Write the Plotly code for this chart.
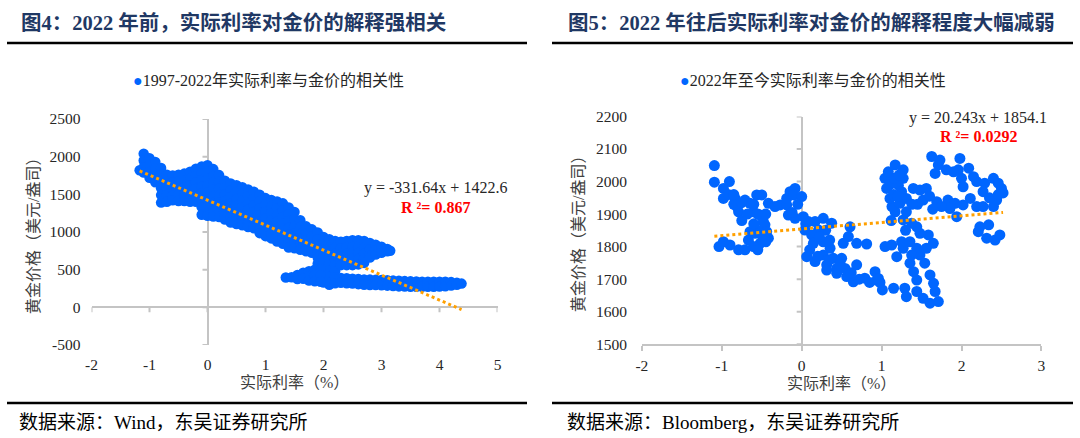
import plotly.graph_objects as go

# ---------------- data: left panel (1997-2022) ----------------
rate_pre = (
    [-1.17] + [-1.10]*4 + [-1.00]*4 + [-0.90]*4 + [-0.80]*6 + [-0.70]*5 + [-0.60]*5 + [-0.50]*5
    + [-0.40]*5 + [-0.30]*6 + [-0.20]*6 + [-0.10]*8 + [0.00]*9 + [0.10]*8 + [0.20]*7 + [0.30]*7
    + [0.40]*7 + [0.50]*7 + [0.60]*7 + [0.70]*7 + [0.80]*7 + [0.90]*7 + [1.00]*7 + [1.10]*7
    + [1.20]*7 + [1.30]*7 + [1.40]*7 + [1.50]*6 + [1.60]*6 + [1.70]*5 + [1.80]*5 + [1.90]*6
    + [2.00]*9 + [2.10]*9 + [2.20]*8 + [2.30]*5 + [2.40]*5 + [2.50]*5 + [2.60]*5 + [2.70]*5
    + [2.80]*4 + [2.90]*3 + [3.00]*2 + [3.10]*2 + [3.15]
    + [1.35] + [1.45] + [1.55]*2 + [1.65]*2 + [1.75]*3 + [1.85]*3 + [1.95]*3
    + [2.30]*2 + [2.40]*2 + [2.50]*2 + [2.60]*2 + [2.70]*2 + [2.80]*2 + [2.90]*2 + [3.00]*2
    + [3.10]*2 + [3.20]*2 + [3.30]*2 + [3.40]*2 + [3.50]*2 + [3.60]*2 + [3.70]*2 + [3.80]*2
    + [3.90]*2 + [4.00]*2 + [4.10]*2 + [4.20]*2 + [4.30]*2 + [4.38]
)
gold_pre = [
    1820,
    2040, 1950, 1860, 1790,
    1980, 1890, 1800, 1720,
    1930, 1840, 1750, 1660,
    1850, 1760, 1670, 1580, 1490, 1390,
    1760, 1670, 1580, 1490, 1400,
    1750, 1660, 1570, 1480, 1420,
    1760, 1670, 1580, 1490, 1410,
    1775, 1685, 1595, 1505, 1410,
    1800, 1710, 1620, 1530, 1440, 1400,
    1840, 1750, 1660, 1570, 1480, 1400,
    1870, 1780, 1690, 1600, 1510, 1420, 1330, 1230,
    1885, 1795, 1705, 1615, 1525, 1435, 1345, 1260, 1215,
    1835, 1745, 1655, 1565, 1475, 1385, 1295, 1205,
    1755, 1665, 1575, 1485, 1395, 1305, 1200,
    1680, 1590, 1500, 1410, 1320, 1230, 1165,
    1645, 1555, 1465, 1375, 1285, 1195, 1125,
    1620, 1530, 1440, 1350, 1260, 1170, 1105,
    1595, 1505, 1415, 1325, 1235, 1145, 1090,
    1565, 1475, 1385, 1295, 1205, 1115, 1065,
    1535, 1445, 1355, 1265, 1175, 1085, 1050,
    1495, 1405, 1315, 1225, 1135, 1045, 985,
    1450, 1360, 1270, 1180, 1090, 1000, 945,
    1425, 1335, 1245, 1155, 1065, 975, 915,
    1405, 1315, 1225, 1135, 1045, 955, 875,
    1380, 1290, 1200, 1110, 1020, 930, 845,
    1325, 1235, 1145, 1055, 965, 875, 795,
    1265, 1170, 1075, 980, 885, 785,
    1155, 1065, 975, 885, 800, 765,
    1075, 985, 900, 815, 745,
    1035, 945, 860, 775, 725,
    995, 905, 820, 740, 660, 580,
    935, 850, 765, 680, 600, 520, 440, 360, 330,
    905, 820, 735, 650, 570, 490, 410, 330, 300,
    880, 795, 710, 630, 560, 480, 400, 320,
    870, 785, 700, 620, 560,
    880, 795, 710, 630, 560,
    890, 805, 720, 640, 560,
    890, 805, 720, 640, 570,
    880, 795, 710, 640, 590,
    855, 770, 690, 660,
    830, 760, 700,
    805, 725,
    775, 745,
    750,
    395, 400, 430, 375, 460, 380, 480, 410, 355, 500, 425, 345, 505, 425, 340,
    390, 325, 385, 320, 380, 316, 375, 308, 370, 300, 368, 297, 365, 295, 362, 292,
    360, 288, 355, 282, 352, 278, 348, 275, 345, 273, 342, 273, 340, 273, 340, 273,
    340, 273, 340, 275, 340, 280, 335, 290, 325, 300, 315,
]
slope_pre, intercept_pre = -331.64, 1422.6
r2_pre = "0.867"

# ---------------- data: right panel (2022-now) ----------------
rate_post = [
    -1.093, -1.093, -0.905, -0.98, -0.98, -0.834, -0.81, -0.79, -0.71, -0.563, -0.50, -0.647,
    -0.605, -0.52, -0.417, -0.48, -0.46, -0.438, -0.417, -0.50, -0.584, -0.647, -0.667, -0.52,
    -0.605, -0.71, -0.79, -0.897, -0.98, -1.035, -0.85, -0.75, -0.60, -0.55, -0.45,
    -0.75, -0.68, -0.55, -0.60, -0.45, -0.55, -0.92, -0.85,
    -0.334, -0.27, -0.188, -0.188, -0.146, -0.083, -0.10, 0.0, -0.167, -0.083, 0.02, 0.083,
    0.04, 0.167, 0.27, 0.375, 0.21, 0.125, 0.146, 0.27, 0.355, 0.063, 0.167, 0.27, 0.313,
    0.396, 0.50, 0.438, 0.313, 0.438, 0.542, 0.688, 0.563, 0.646, 0.79, 0.918, 0.94, 1.01,
    0.605, 0.52, 0.688, 0.813, 0.584, 1.043,
    -0.05, -0.12, 0.05, 0.30, 0.22, 0.35, 0.10, 0.20, 0.35, 0.48, 0.62, 0.72, 0.85, 0.98,
    0.96, 1.15, 1.29, 1.31, 1.44, 1.52, 1.606, 1.71, 1.67, 1.65, 1.606, 1.44, 1.40, 1.355,
    1.54, 1.48, 1.44, 1.56, 1.647, 1.585, 1.48, 1.44, 1.376, 1.27, 1.17, 1.13, 1.105, 1.063,
    1.042, 1.084, 1.17, 1.27, 1.27, 1.21, 1.25, 1.23, 1.31, 1.31, 1.397, 1.48, 1.56, 1.52,
    1.69, 1.83, 1.92, 2.02, 1.855, 1.75, 1.94, 2.11, 2.19, 2.27, 2.40, 2.44, 2.50, 2.40,
    2.29, 2.27, 2.19, 2.15, 2.09, 1.98, 1.96, 2.0, 2.02, 1.90, 1.81, 1.71, 1.627, 1.73, 1.67,
    2.23, 2.34, 2.21, 2.315, 2.42, 2.48, 1.126, 1.25, 1.19, 1.27, 1.355, 1.376,
    2.52, 2.46, 1.10, 1.15, 1.20, 1.16, 1.22, 1.12, 1.30, 1.60, 1.64, 1.45, 1.38, 2.35, 2.46,
]
gold_post = [
    2049, 1998, 2000, 1979, 1948, 1948, 1923, 1907, 1943, 1959, 1959, 1933,
    1907, 1897, 1933, 1877, 1867, 1846, 1826, 1836, 1841, 1846, 1820, 1810,
    1800, 1790, 1790, 1805, 1815, 1800, 1930, 1935, 1930, 1900, 1900,
    1880, 1900, 1850, 1870, 1815, 1790, 1960, 1960,
    1923, 1928, 1928, 1948, 1969, 1979, 1959, 1954, 1897, 1887, 1892, 1877,
    1851, 1877, 1887, 1872, 1851, 1836, 1810, 1815, 1795, 1769, 1754, 1774, 1744,
    1764, 1764, 1733, 1728, 1718, 1733, 1744, 1708, 1692, 1703, 1723, 1697, 1667,
    1861, 1810, 1810, 1808, 1831, 1800,
    1930, 1905, 1870, 1850, 1830, 1820, 1790, 1770, 1760, 1745, 1720, 1700, 1690, 1690,
    1702, 1672, 1672, 1646, 1662, 1641, 1626, 1631, 1662, 1687, 1713, 1697, 1723, 1749,
    1749, 1774, 1795, 1795, 1810, 1836, 1841, 1861, 1872, 1882, 1907, 1923, 1948, 1979,
    2010, 2030, 2051, 2036, 2010, 1989, 1969, 1933, 1907, 1948, 1979, 1974, 1979, 1943,
    1938, 1943, 1933, 1928, 1917, 1923, 1892, 1948, 1923, 1923, 1923, 1943, 1979, 2010,
    1995, 1969, 2000, 2015, 2041, 2071, 2036, 2010, 1984, 2030, 2036, 2051, 2077, 2066, 2025,
    1861, 1867, 1846, 1826, 1820, 1836, 1805, 1815, 1769, 1795, 1815, 1774,
    1965, 1995, 1990, 1960, 1955, 2010, 2020, 1880, 1850, 1955, 1915, 1930, 1930, 1950, 1960,
]
slope_post, intercept_post = 20.243, 1854.1
r2_post = "0.0292"

# ---------------- tick labels / text ----------------
xticks_pre = [-2, -1, 0, 1, 2, 3, 4, 5]
yticks_pre = [-500, 0, 500, 1000, 1500, 2000, 2500]
xticks_post = [-2, -1, 0, 1, 2, 3]
yticks_post = [1500, 1600, 1700, 1800, 1900, 2000, 2100, 2200]

title_pre = "图4：2022 年前，实际利率对金价的解释强相关"
title_post = "图5：2022 年往后实际利率对金价的解释程度大幅减弱"
legend_pre = "1997-2022年实际利率与金价的相关性"
legend_post = "2022年至今实际利率与金价的相关性"
xlabel = "实际利率（%）"
ylabel = "黄金价格（美元/盎司）"
source_pre = "数据来源：Wind，东吴证券研究所"
source_post = "数据来源：Bloomberg，东吴证券研究所"

# ---------------- styling ----------------
W, H = 1080, 438
FONT = "Liberation Serif, 'Times New Roman', 'Noto Sans CJK SC', serif"
BLUE = "#0066FF"
ORANGE = "#FFA000"
AXIS = "#C4C4C4"
NAVY = "#1F3864"
TXT = "#262626"


def px(x):
    return x / W


def py(y):
    return 1 - y / H


def labels(vals):
    return [str(v) for v in vals]


fig = go.Figure()

fig.add_trace(go.Scatter(x=rate_pre, y=gold_pre, mode="markers", xaxis="x", yaxis="y",
                         marker=dict(color=BLUE, size=10.5, line=dict(width=0)),
                         showlegend=False, hoverinfo="skip"))
tx = [min(rate_pre), max(rate_pre)]
fig.add_trace(go.Scatter(x=tx, y=[slope_pre * v + intercept_pre for v in tx], mode="lines",
                         xaxis="x", yaxis="y", line=dict(color=ORANGE, width=3, dash="3px,3px"),
                         showlegend=False, hoverinfo="skip"))
fig.add_trace(go.Scatter(x=rate_post, y=gold_post, mode="markers", xaxis="x2", yaxis="y2",
                         marker=dict(color=BLUE, size=11, line=dict(width=0)),
                         showlegend=False, hoverinfo="skip"))
tx2 = [min(rate_post), max(rate_post)]
fig.add_trace(go.Scatter(x=tx2, y=[slope_post * v + intercept_post for v in tx2], mode="lines",
                         xaxis="x2", yaxis="y2", line=dict(color=ORANGE, width=3, dash="3px,3px"),
                         showlegend=False, hoverinfo="skip"))

tickfont = dict(family=FONT, size=15.5, color=TXT)
dom_x1 = [px(91.5), px(497.5)]
dom_y1 = [py(345), py(119)]
dom_x2 = [px(641.9), px(1041.4)]
dom_y2 = [py(344.2), py(116.5)]

common = dict(showgrid=False, automargin=False, fixedrange=True, tickfont=tickfont)

fig.update_layout(
    template="none",
    width=W, height=H, margin=dict(l=0, r=0, t=0, b=0, pad=0, autoexpand=False),
    paper_bgcolor="white", plot_bgcolor="white", showlegend=False,
    xaxis=dict(domain=dom_x1, range=[-2, 5], tickvals=xticks_pre, ticktext=labels(xticks_pre),
               ticks="", showline=False, zeroline=True, zerolinecolor=AXIS, zerolinewidth=2,
               ticklabelstandoff=8, anchor="y", **common),
    yaxis=dict(domain=dom_y1, range=[-500, 2500], tickvals=yticks_pre, ticktext=labels(yticks_pre),
               ticks="", showline=False, zeroline=True, zerolinecolor=AXIS, zerolinewidth=2,
               ticklabelstandoff=10, anchor="x", **common),
    xaxis2=dict(domain=dom_x2, range=[-2, 3], tickvals=xticks_post, ticktext=labels(xticks_post),
                ticks="outside", ticklen=5, tickcolor=AXIS, tickwidth=2, showline=True,
                linecolor=AXIS, linewidth=2, zeroline=True, zerolinecolor=AXIS, zerolinewidth=2,
                ticklabelstandoff=1, anchor="y2", **common),
    yaxis2=dict(domain=dom_y2, range=[1500, 2200], tickvals=yticks_post,
                ticktext=labels(yticks_post), ticks="", showline=False,
                zeroline=False, ticklabelstandoff=14, anchor="x2", **common),
)

shapes = []
for t in xticks_pre:
    shapes.append(dict(type="line", xref="x", yref="y", x0=t, x1=t, ysizemode="pixel", yanchor=0,
                       y0=0, y1=-5, line=dict(color=AXIS, width=2), layer="below"))
for t in yticks_pre:
    shapes.append(dict(type="line", xref="x", yref="y", y0=t, y1=t, xsizemode="pixel", xanchor=0,
                       x0=-5, x1=0, line=dict(color=AXIS, width=2), layer="below"))
for t in yticks_post:
    shapes.append(dict(type="line", xref="x2", yref="y2", y0=t, y1=t, xsizemode="pixel", xanchor=0,
                       x0=-5, x1=0, line=dict(color=AXIS, width=2), layer="below"))
for (a, b) in [(7, 527), (552, 1073)]:
    shapes.append(dict(type="line", xref="paper", yref="paper", x0=px(a), x1=px(b),
                       y0=py(43), y1=py(43), line=dict(color="black", width=2.5)))
    shapes.append(dict(type="line", xref="paper", yref="paper", x0=px(a), x1=px(b),
                       y0=py(403), y1=py(403), line=dict(color="black", width=2.5)))
fig.update_layout(shapes=shapes)

ann = []


def add_text(text, x, y, size, color=TXT, xanchor="center", angle=0, bold=False):
    ann.append(dict(text=f"<b>{text}</b>" if bold else text, x=px(x), y=py(y), xref="paper",
                    yref="paper", showarrow=False, xanchor=xanchor, yanchor="middle",
                    textangle=angle, font=dict(family=FONT, size=size, color=color)))


add_text(title_pre, 19, 22, 20.5, NAVY, "left", bold=True)
add_text(title_post, 566, 22, 20.5, NAVY, "left", bold=True)
add_text(f"<span style='color:{BLUE}'>●</span>{legend_pre}", 268, 81, 16)
add_text(f"<span style='color:{BLUE}'>●</span>{legend_post}", 813, 81, 16)
add_text(xlabel, 294.5, 382, 16, "#404040")
add_text(xlabel, 841.6, 383, 16, "#404040")
add_text(ylabel, 33, 232, 16, "#404040", angle=-90)
add_text(ylabel, 578, 230, 16, "#404040", angle=-90)
add_text(f"y = {slope_pre}x + {intercept_pre}", 435, 188, 16)
add_text(f"R ²= {r2_pre}", 435, 207, 16, "#FF0000", bold=True)
add_text(f"y = {slope_post}x + {intercept_post}", 978, 118, 16)
add_text(f"R ²= {r2_post}", 978, 136, 16, "#FF0000", bold=True)
add_text(source_pre, 17, 422, 19, "black", "left")
add_text(source_post, 565, 422, 19, "black", "left")
fig.update_layout(annotations=ann)

fig.write_html("out.html", config={"displayModeBar": False, "staticPlot": True},
               post_script="document.body.style.margin='0';")
